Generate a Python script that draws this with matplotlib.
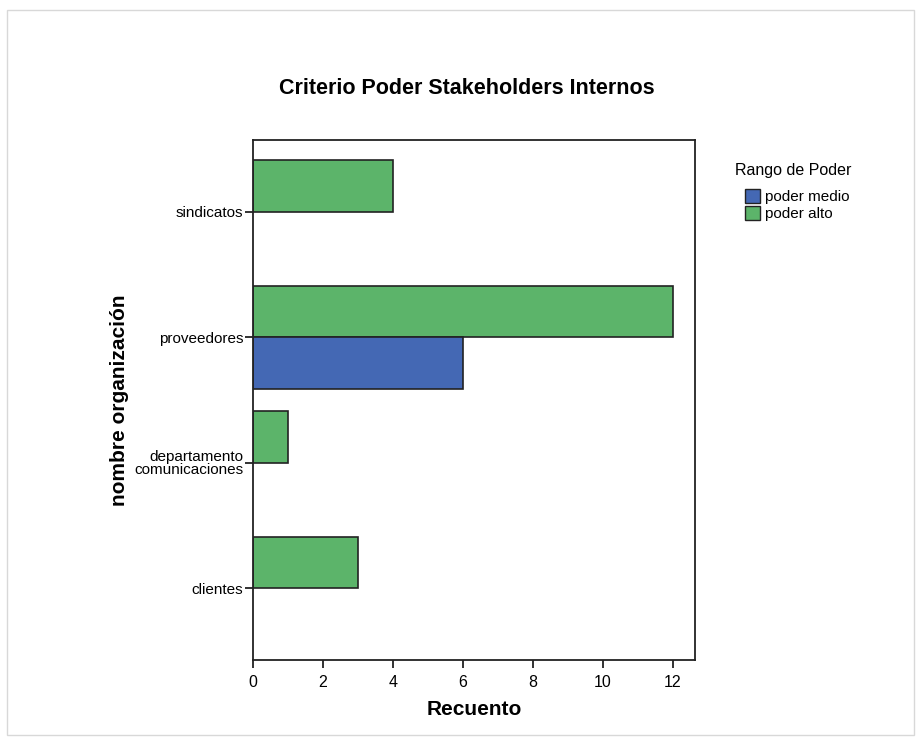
import numpy as np
import matplotlib.pyplot as plt
from matplotlib.patches import Patch, Rectangle

plt.rcParams['font.family'] = ['Liberation Sans', 'DejaVu Sans']

categorias = ['clientes', 'departamento\ncomunicaciones', 'proveedores', 'sindicatos']
poder_medio = [0, 0, 6, 0]
poder_alto = [3, 1, 12, 4]
series = ['poder medio', 'poder alto']
color_medio = '#4468b4'
color_alto = '#5cb46a'

fig = plt.figure(figsize=(9.16, 7.37), dpi=100)
ax = fig.add_axes([253 / 916, 1 - 660 / 737, 442 / 916, 520 / 737])

pos = np.arange(len(categorias))
h = 0.41
ax.barh(pos + h / 2, poder_alto, height=h, color=color_alto,
        edgecolor='#222222', linewidth=1.2)
medio = np.array(poder_medio)
mask = medio > 0
ax.barh(pos[mask] - h / 2, medio[mask], height=h, color=color_medio,
        edgecolor='#222222', linewidth=1.2)

ax.set_xlim(0, 12.63)
ax.set_ylim(-0.57, 3.57)
ax.set_xticks([0, 2, 4, 6, 8, 10, 12])
ax.set_yticks(pos)
ax.set_yticklabels(categorias, linespacing=0.92)
ax.tick_params(axis='x', labelsize=11.5, length=6, width=1.3, color='#222222', pad=5)
ax.tick_params(axis='y', labelsize=11, length=6, width=1.3, color='#222222', pad=1)
for s in ax.spines.values():
    s.set_linewidth(1.3)
    s.set_color('#222222')

ax.set_xlabel('Recuento', fontsize=15, fontweight='bold')
ax.set_ylabel('nombre organización', fontsize=15, fontweight='bold')
ax.xaxis.set_label_coords(0.5, -0.076)
ax.yaxis.set_label_coords(-0.28, 0.5)
fig.text(467 / 916, 1 - 88 / 737, 'Criterio Poder Stakeholders Internos',
         ha='center', va='center', fontsize=15.5, fontweight='bold')

# leyenda: título aparte, entradas algo sangradas
fig.text(735 / 916, 1 - 170 / 737, 'Rango de Poder', ha='left', va='center',
         fontsize=11.5)
handles = [Patch(facecolor=color_medio, edgecolor='#222222'),
           Patch(facecolor=color_alto, edgecolor='#222222')]
leg = fig.legend(handles, series, loc='upper left',
                 bbox_to_anchor=(742 / 916, 1 - 186 / 737),
                 frameon=False, fontsize=11, handlelength=1.0,
                 handleheight=1.0, handletextpad=0.3, labelspacing=0.15,
                 borderpad=0.2, borderaxespad=0)

# marco exterior del gráfico
fig.patches.append(Rectangle((7 / 916, 1 - 735 / 737), 907 / 916, 725 / 737,
                             transform=fig.transFigure, fill=False,
                             edgecolor='#d8d8d8', linewidth=1))

fig.savefig('out.png', dpi=100)
